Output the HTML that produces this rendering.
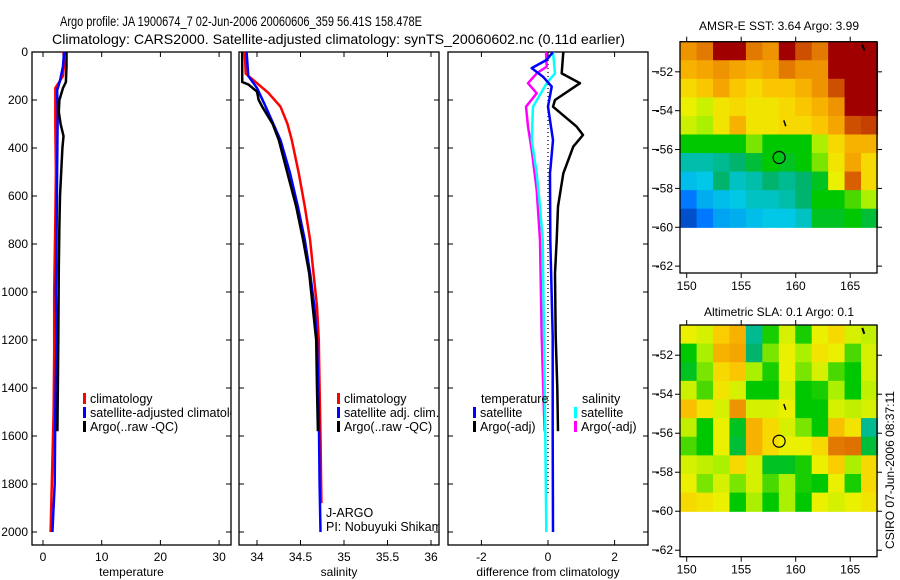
<!DOCTYPE html>
<html><head><meta charset="utf-8"><style>
html,body{margin:0;padding:0;background:#fff;}
svg{display:block;font-family:"Liberation Sans",sans-serif;}
</style></head><body>
<svg id="fig" width="900" height="580" viewBox="0 0 900 580" xmlns="http://www.w3.org/2000/svg">
<text x="60" y="26" font-size="14" textLength="362" lengthAdjust="spacingAndGlyphs">Argo profile: JA 1900674_7 02-Jun-2006 20060606_359 56.41S 158.478E</text>
<text x="52" y="44" font-size="14" textLength="573" lengthAdjust="spacingAndGlyphs">Climatology: CARS2000. Satellite-adjusted climatology: synTS_20060602.nc (0.11d earlier)</text>
<text x="779" y="30" font-size="12" text-anchor="middle">AMSR-E SST: 3.64  Argo: 3.99</text>
<text x="779" y="316" font-size="12" text-anchor="middle">Altimetric SLA: 0.1  Argo: 0.1</text>
<text transform="translate(894,470) rotate(-90)" font-size="12" text-anchor="middle">CSIRO 07-Jun-2006 08:37:11</text>
<g id="plots"></g>
</svg>
<script>
// ---------- profile data (depth in m) ----------
const depthTicks = [0,200,400,600,800,1000,1200,1400,1600,1800,2000];
const tTicks = [0,10,20,30];
const sTicks = [34,34.5,35,35.5,36];
const dTicks = [-2,0,2];

const tClimD = [0,50,100,150,200,300,500,700,1000,1250,1500,1700,1900,2000];
const tClim  = [3.5,3.6,3.4,2.1,2.1,2.1,2.2,2.1,1.9,1.9,1.8,1.6,1.4,1.3];
const tSatD  = [0,60,120,160,250,500,800,1000,1200,1500,1800,2000];
const tSat   = [3.6,3.4,2.9,2.4,2.5,2.4,2.3,2.2,2.3,2.1,2.0,1.6];
const tArgoD = [0,60,125,150,200,250,300,350,400,500,600,720,900,1200,1580];
const tArgo  = [4.0,4.0,3.9,3.4,2.8,2.7,3.0,3.5,3.3,3.1,2.9,2.8,2.7,2.6,2.45];

const sClimD = [0,90,130,170,228,300,367,506,644,783,922,1061,1200,1400,1600,1880];
const sClim  = [33.86,33.87,34.0,34.13,34.27,34.35,34.4,34.48,34.55,34.61,34.65,34.69,34.71,34.72,34.73,34.74];
const sSatD  = [0,100,150,228,367,506,644,783,922,1061,1200,1500,1800,2000];
const sSat   = [33.88,33.9,34.0,34.1,34.27,34.38,34.47,34.55,34.61,34.66,34.69,34.71,34.72,34.73];
const sArgoD = [0,125,135,165,200,228,300,367,506,644,783,922,1061,1200,1400,1580];
const sArgo  = [33.83,33.83,33.9,34.0,34.02,34.06,34.18,34.25,34.35,34.45,34.53,34.6,34.64,34.68,34.69,34.7];

const dTArgoD = [0,89,130,200,228,311,346,394,506,644,783,922,1186,1400,1580];
const dTArgo  = [0.46,0.41,0.96,0.21,0.15,0.86,1.05,0.76,0.46,0.3,0.26,0.21,0.23,0.28,0.3];
const dTSatD  = [0,33,67,103,144,228,367,506,783,1186,1600,2000];
const dTSat   = [0.15,-0.04,-0.49,-0.15,0.11,0.0,0.15,0.06,0.07,0.14,0.14,0.15];
const dSArgoD = [0,61,89,130,172,228,311,408,575,783,1186,1500,1580];
const dSArgo  = [-0.06,-0.04,-0.34,-0.6,-0.34,-0.66,-0.6,-0.49,-0.34,-0.24,-0.19,-0.12,-0.1];
const dSSatD  = [0,89,130,228,367,506,644,783,1186,1600,2000];
const dSSat   = [0.15,0.21,-0.04,-0.45,-0.49,-0.34,-0.24,-0.16,-0.12,-0.08,-0.05];

// ---------- map data (rows north->south, cols west->east, colour index 0..1) ----------
const lonTicks = [150,155,160,165];
const latTicks = [-52,-54,-56,-58,-60,-62];
const sstGrid = [
[.82,.85,1,1,.85,.82,1,.9,.85,1,1,1],
[.78,.8,.82,.8,.78,.8,.85,.82,.82,1,1,1],
[.72,.75,.8,.75,.72,.75,.75,.78,.82,.9,1,1],
[.68,.65,.7,.72,.7,.7,.72,.75,.78,.82,1,1],
[.65,.62,.7,.78,.7,.7,.72,.72,.75,.8,.9,.92],
[.55,.55,.55,.55,.6,.55,.55,.55,.62,.72,.78,.78],
[.4,.4,.42,.45,.5,.55,.52,.55,.6,.7,.8,.72],
[.33,.35,.45,.38,.4,.45,.42,.45,.52,.68,.88,.72],
[.2,.3,.33,.35,.38,.38,.4,.45,.55,.55,.58,.62],
[.1,.2,.28,.3,.33,.35,.35,.38,.52,.52,.55,.5]];
const slaGrid = [
[.68,.66,.74,.78,.42,.56,.66,.56,.68,.72,.66,.64],
[.55,.62,.78,.8,.45,.6,.68,.62,.7,.68,.58,.66],
[.52,.6,.72,.75,.62,.56,.68,.6,.66,.58,.55,.66],
[.65,.58,.7,.66,.55,.55,.66,.55,.56,.62,.55,.64],
[.76,.7,.66,.82,.66,.66,.68,.55,.55,.66,.64,.66],
[.64,.55,.68,.52,.78,.72,.66,.6,.55,.76,.7,.42],
[.58,.55,.68,.5,.78,.72,.68,.68,.72,.85,.86,.5],
[.66,.64,.62,.72,.66,.52,.52,.56,.68,.74,.62,.72],
[.68,.6,.66,.6,.66,.58,.62,.56,.55,.68,.56,.72],
[.72,.7,.68,.55,.62,.55,.62,.55,.68,.66,.68,.7]];
const floatLon = 158.478, floatLat = -56.41;

const NS = "http://www.w3.org/2000/svg";
const root = document.getElementById('plots');
function mk(tag, attrs, parent){ const e=document.createElementNS(NS,tag); for(const k in attrs) e.setAttribute(k,attrs[k]); (parent||root).appendChild(e); return e; }

const Y0=52, PXM=0.24;
const yD = d => Y0 + d*PXM;
const xT = v => 43 + v*5.87;
const xS = v => 257 + (v-34)*87;
const xDf = v => 548 + v*33.3;
const panels = [{l:32,r:231,name:'temperature-panel'},{l:239,r:439,name:'salinity-panel'},{l:448,r:648,name:'difference-panel'}];
const PB=545;

const defs = mk('defs',{});
panels.forEach((p,i)=>{ const c=mk('clipPath',{id:'clip'+i},defs); mk('rect',{x:p.l,y:Y0-2,width:p.r-p.l,height:PB-Y0+2},c); });

function frame(p,i,xt,xfn,xlabel){
  const g=mk('g',{});
  
  
  const r=mk('rect',{x:p.l,y:Y0,width:p.r-p.l,height:PB-Y0,fill:'none',stroke:'#000','stroke-width':1.3},g);
  
  
  xt.forEach(v=>{
    const x=xfn(v);
    mk('line',{x1:x,x2:x,y1:Y0,y2:Y0+5,stroke:'#000'},g);
    mk('line',{x1:x,x2:x,y1:PB,y2:PB-5,stroke:'#000'},g);
    const t=mk('text',{x:x,y:PB+16,'font-size':12,'text-anchor':'middle'},g);
    t.textContent=v;
    
    
  });
  depthTicks.forEach(d=>{
    const y=yD(d);
    mk('line',{x1:p.l,x2:p.l+5,y1:y,y2:y,stroke:'#000'},g);
    mk('line',{x1:p.r,x2:p.r-5,y1:y,y2:y,stroke:'#000'},g);
  });
  const xl=mk('text',{x:(p.l+p.r)/2,y:PB+31,'font-size':12,'text-anchor':'middle'},g);
  xl.textContent=xlabel;
  
  
}
frame(panels[0],0,tTicks,xT,'temperature');
frame(panels[1],1,sTicks,xS,'salinity');
frame(panels[2],2,dTicks,xDf,'difference from climatology');
depthTicks.forEach(d=>{
  const t=mk('text',{x:28,y:yD(d)+4,'font-size':12,'text-anchor':'end'});
  t.textContent=d;
  
  
});
latTicks.forEach(la=>{
  [71.7+( -52-la)*19.43, 355+(-52-la)*19.5].forEach(y=>mk('line',{x1:652,x2:659,y1:y,y2:y,stroke:'#000'}));
});

function series(dep,val,xfn,color,ci,name){
  const pts=dep.map((d,i)=>xfn(val[i]).toFixed(1)+','+yD(d).toFixed(1)).join(' ');
  const pl=mk('polyline',{points:pts,fill:'none',stroke:color,'stroke-width':2.5,'stroke-linejoin':'round','clip-path':'url(#clip'+ci+')'});
  
  
}
series(tClimD,tClim,xT,'#f00',0,'temp-climatology-line');
series(tSatD,tSat,xT,'#00f',0,'temp-satellite-line');
series(tArgoD,tArgo,xT,'#000',0,'temp-argo-line');
series(sClimD,sClim,xS,'#f00',1,'sal-climatology-line');
series(sSatD,sSat,xS,'#00f',1,'sal-satellite-line');
series(sArgoD,sArgo,xS,'#000',1,'sal-argo-line');
const z=mk('line',{x1:xDf(0),x2:xDf(0),y1:Y0,y2:yD(1850),stroke:'#000','stroke-width':1.2,'stroke-dasharray':'1,3'});


series(dTArgoD,dTArgo,xDf,'#000',2,'diff-temp-argo-line');
series(dSArgoD,dSArgo,xDf,'#f0f',2,'diff-sal-argo-line');
series(dSSatD,dSSat,xDf,'#0ff',2,'diff-sal-satellite-line');
series(dTSatD,dTSat,xDf,'#00f',2,'diff-temp-satellite-line');

function legend(x,y,color,label,ci,name){
  if(color){ const b=mk('rect',{x:x,y:y-10,width:3,height:11,fill:color});   }
  const t=mk('text',{x:x+7,y:y,'font-size':12.5,'clip-path':'url(#clip'+ci+')'});
  t.textContent=label;
  
  
}
legend(83,403,'#f00','climatology',0,'legend-climatology');
legend(83,417,'#00f','satellite-adjusted climatology',0,'legend-satellite');
legend(83,431,'#000','Argo(..raw -QC)',0,'legend-argo');
legend(337,403,'#f00','climatology',1,'legend-sal-climatology');
legend(337,417,'#00f','satellite adj. clim.',1,'legend-sal-satellite');
legend(337,431,'#000','Argo(..raw -QC)',1,'legend-sal-argo');
legend(319,517,null,'J-ARGO',1,'data-centre-label');
legend(319,531,null,'PI: Nobuyuki Shikama',1,'pi-label');
legend(474,403,null,'temperature',2,'legend-temperature-heading');
legend(473,417,'#00f','satellite',2,'legend-temp-satellite');
legend(473,431,'#000','Argo(-adj)',2,'legend-temp-argo');
legend(575,403,null,'salinity',2,'legend-salinity-heading');
legend(574,417,'#0ff','satellite',2,'legend-sal-satellite-diff');
legend(574,431,'#f0f','Argo(-adj)',2,'legend-sal-argo-diff');

// ---------- maps ----------
const stops=[[0,[0,40,150]],[.2,[0,120,255]],[.35,[0,200,230]],[.45,[0,180,110]],[.55,[0,200,0]],[.62,[170,240,0]],[.68,[235,240,0]],[.74,[250,205,0]],[.8,[245,165,0]],[.88,[215,95,0]],[1,[160,0,0]]];
function cmap(v){
  for(let i=1;i<stops.length;i++){ if(v<=stops[i][0]){ const a=stops[i-1],b=stops[i],f=(v-a[0])/(b[0]-a[0]);
    return 'rgb('+a[1].map((c,k)=>Math.round(c+(b[1][k]-c)*f)).join(',')+')'; } }
  return 'rgb(160,0,0)';
}
function drawMap(top,bottom,grid,name,pxPerLat){
  const L=680,R=877;
  const xL=lon=>686.7+(lon-150)*10.9;
  const yL=lat=>top+((-50.45)-lat)*pxPerLat;
  const g=mk('g',{});
  
  
  const rows=grid.length, cols=grid[0].length;
  const lon0=149.4, lon1=167.5, lat0=-50.45, lat1=-60;
  const dLon=(lon1-lon0)/cols, dLat=(lat0-lat1)/rows;
  grid.forEach((row,ri)=>row.forEach((v,ci)=>{
    const x=xL(lon0+ci*dLon), y=yL(lat0-ri*dLat);
    const c=mk('rect',{x:x.toFixed(2),y:y.toFixed(2),width:(dLon*10.9+0.6).toFixed(2),height:(dLat*pxPerLat+0.6).toFixed(2),fill:cmap(v)},g);
    
    
  }));
  const fr=mk('rect',{x:L,y:top,width:R-L,height:bottom-top,fill:'none',stroke:'#000','stroke-width':1.3},g);
  
  
  lonTicks.forEach(lon=>{
    const x=xL(lon);
    mk('line',{x1:x,x2:x,y1:top,y2:top-5,stroke:'#000'},g);
    mk('line',{x1:x,x2:x,y1:bottom,y2:bottom+5,stroke:'#000'},g);
    const t=mk('text',{x:x,y:bottom+17,'font-size':12,'text-anchor':'middle'},g);
    t.textContent=lon;
    
    
  });
  latTicks.forEach(la=>{
    const y=yL(la);
    mk('line',{x1:L,x2:L-5,y1:y,y2:y,stroke:'#000'},g);
    mk('line',{x1:R,x2:R+5,y1:y,y2:y,stroke:'#000'},g);
    const t=mk('text',{x:L-7,y:y+4,'font-size':12,'text-anchor':'end'},g);
    t.textContent=la;
    
    
  });
  const m=mk('circle',{cx:xL(floatLon),cy:yL(floatLat),r:6,fill:'none',stroke:'#000','stroke-width':1.2},g);
  
  
  mk('line',{x1:xL(159)-1,x2:xL(159)+1,y1:yL(-54.5),y2:yL(-54.8),stroke:'#000','stroke-width':1.5},g);
  mk('line',{x1:xL(166.2)-1,x2:xL(166.2)+1,y1:yL(-50.6),y2:yL(-50.9),stroke:'#000','stroke-width':2},g);
}
drawMap(41.7,273,sstGrid,'sst-map',19.43);
drawMap(325,556.7,slaGrid,'sla-map',19.5);
</script>
</body></html>
